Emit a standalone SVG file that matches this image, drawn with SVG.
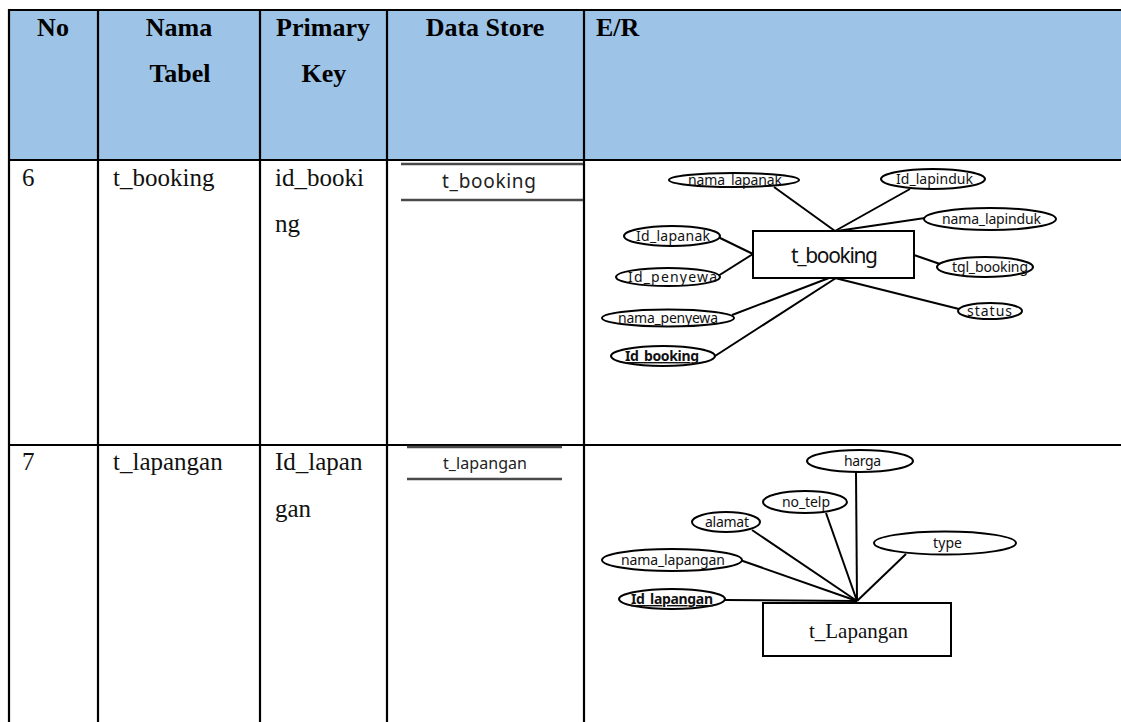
<svg xmlns="http://www.w3.org/2000/svg" width="1121" height="722" viewBox="0 0 1121 722">
  <style>
    .grid { stroke: #000; stroke-width: 2.2; fill: none; }
    .head { font-family: "Liberation Serif", "Times New Roman", serif; font-weight: bold; font-size: 26px; fill: #000; }
    .cell { font-family: "Liberation Serif", "Times New Roman", serif; font-size: 25px; fill: #111; }
    .ds { stroke: #4a4a4a; stroke-width: 2.4; }
    .dslabel { font-family: "Noto Sans", "Open Sans", sans-serif; fill: #222; }
    .attr { fill: #fff; stroke: #000; stroke-width: 2; }
    .alabel { font-family: "Noto Sans", "Open Sans", sans-serif; font-size: 14px; fill: #111; text-anchor: start; }
    .key { font-weight: bold; text-decoration: underline; }
    .ent { fill: #fff; stroke: #000; stroke-width: 2; }
    .link { stroke: #000; stroke-width: 2; fill: none; }
  </style>

  <rect width="1121" height="722" fill="#fff"/>

  <!-- header band -->
  <rect x="9" y="10" width="1112" height="150" fill="#9dc3e6"/>

  <!-- table rules -->
  <g id="table-grid" class="grid">
    <line x1="8" y1="10" x2="1121" y2="10"/>
    <line x1="8" y1="160" x2="1121" y2="160"/>
    <line x1="8" y1="445" x2="1121" y2="445"/>
    <line x1="9" y1="9" x2="9" y2="722"/>
    <line x1="98" y1="9" x2="98" y2="722"/>
    <line x1="260" y1="9" x2="260" y2="722"/>
    <line x1="387" y1="9" x2="387" y2="722"/>
    <line x1="584" y1="9" x2="584" y2="722"/>
  </g>

  <!-- header titles -->
  <g id="header">
    <text class="head" x="53" y="36" text-anchor="middle">No</text>
    <text class="head" x="179" y="36" text-anchor="middle">Nama</text>
    <text class="head" x="180" y="82" text-anchor="middle">Tabel</text>
    <text class="head" x="323" y="36" text-anchor="middle">Primary</text>
    <text class="head" x="324" y="82" text-anchor="middle">Key</text>
    <text class="head" x="485" y="36" text-anchor="middle">Data Store</text>
    <text class="head" x="596" y="36">E/R</text>
  </g>

  <!-- row 6 -->
  <g id="row-6">
    <text class="cell" x="22" y="186">6</text>
    <text class="cell" x="113" y="186">t_booking</text>
    <text class="cell" x="275" y="186">id_booki</text>
    <text class="cell" x="275" y="232">ng</text>
  </g>
  <g id="store-t_booking">
    <line class="ds" x1="401" y1="164" x2="583" y2="164"/>
    <line class="ds" x1="401" y1="200" x2="583" y2="200"/>
    <text class="dslabel" x="442" y="188" font-size="19" textLength="94">t_booking</text>
  </g>

  <!-- row 7 -->
  <g id="row-7">
    <text class="cell" x="22" y="470">7</text>
    <text class="cell" x="113" y="470">t_lapangan</text>
    <text class="cell" x="275" y="470">Id_lapan</text>
    <text class="cell" x="275" y="517">gan</text>
  </g>
  <g id="store-t_lapangan">
    <line class="ds" x1="407" y1="447" x2="562" y2="447"/>
    <line class="ds" x1="407" y1="479" x2="562" y2="479"/>
    <text class="dslabel" x="443" y="469" font-size="16" textLength="84">t_lapangan</text>
  </g>

  <!-- connectors, t_booking -->
  <g id="links-booking" class="link">
    <line x1="774" y1="187" x2="835" y2="231"/>
    <line x1="910" y1="189" x2="835" y2="231"/>
    <line x1="925" y1="218" x2="837" y2="231"/>
    <line x1="718" y1="237" x2="753" y2="254"/>
    <line x1="718" y1="276" x2="753" y2="254"/>
    <line x1="914" y1="255" x2="940" y2="264"/>
    <line x1="835" y1="278" x2="959" y2="309"/>
    <line x1="732" y1="315" x2="829" y2="278"/>
    <line x1="715" y1="356" x2="836" y2="278"/>
  </g>

  <!-- connectors, t_Lapangan -->
  <g id="links-lapangan" class="link">
    <line x1="856" y1="472" x2="857" y2="601"/>
    <line x1="826" y1="513" x2="857" y2="601"/>
    <line x1="752" y1="530" x2="857" y2="601"/>
    <line x1="906" y1="554" x2="857" y2="601"/>
    <line x1="740" y1="560" x2="857" y2="601"/>
    <line x1="725" y1="600" x2="857" y2="601"/>
  </g>

  <!-- entity t_booking -->
  <g id="entity-t_booking">
    <rect class="ent" x="753" y="231" width="161" height="47"/>
    <text x="791" y="263" font-family="Noto Sans, Open Sans, sans-serif" font-size="21" textLength="87" fill="#111">t_booking</text>
  </g>

  <g id="attr-nama_lapanak">
    <ellipse class="attr" cx="734" cy="180" rx="65" ry="7"/>
    <text class="alabel" x="688" y="185" textLength="94">nama_lapanak</text>
  </g>
  <g id="attr-id_lapinduk">
    <ellipse class="attr" cx="933" cy="179" rx="52" ry="10"/>
    <text class="alabel" x="896" y="184" textLength="77">Id_lapinduk</text>
  </g>
  <g id="attr-nama_lapinduk">
    <ellipse class="attr" cx="990" cy="219" rx="66" ry="11"/>
    <text class="alabel" x="942" y="224" textLength="99">nama_lapinduk</text>
  </g>
  <g id="attr-id_lapanak">
    <ellipse class="attr" cx="672" cy="236" rx="48" ry="10"/>
    <text class="alabel" x="636" y="241" textLength="74">Id_lapanak</text>
  </g>
  <g id="attr-id_penyewa">
    <ellipse class="attr" cx="668" cy="277" rx="52" ry="9"/>
    <text class="alabel" x="628" y="282" textLength="89">Id_penyewa</text>
  </g>
  <g id="attr-tgl_booking">
    <ellipse class="attr" cx="985" cy="267" rx="48" ry="10"/>
    <text class="alabel" x="952" y="272" textLength="76">tgl_booking</text>
  </g>
  <g id="attr-nama_penyewa">
    <ellipse class="attr" cx="668" cy="318" rx="66" ry="8.5"/>
    <text class="alabel" x="618" y="323" textLength="100">nama_penyewa</text>
  </g>
  <g id="attr-status">
    <ellipse class="attr" cx="990" cy="311" rx="32" ry="8"/>
    <text class="alabel" x="967" y="316" textLength="45">status</text>
  </g>
  <g id="attr-id_booking">
    <ellipse class="attr" cx="663" cy="356" rx="52" ry="10"/>
    <text class="alabel key" x="625" y="361" textLength="74">Id_booking</text>
  </g>

  <!-- entity t_Lapangan -->
  <g id="entity-t_Lapangan">
    <rect class="ent" x="763" y="603" width="188" height="53"/>
    <text x="809" y="638" font-family="Liberation Serif, Times New Roman, serif" font-size="21" textLength="99" fill="#111">t_Lapangan</text>
  </g>

  <g id="attr-harga">
    <ellipse class="attr" cx="860" cy="461" rx="53" ry="11"/>
    <text class="alabel" x="844" y="466" textLength="37">harga</text>
  </g>
  <g id="attr-no_telp">
    <ellipse class="attr" cx="805" cy="502" rx="42" ry="11"/>
    <text class="alabel" x="782" y="507" textLength="48">no_telp</text>
  </g>
  <g id="attr-alamat">
    <ellipse class="attr" cx="726" cy="522" rx="34" ry="10"/>
    <text class="alabel" x="705" y="527" textLength="44">alamat</text>
  </g>
  <g id="attr-type">
    <ellipse class="attr" cx="945" cy="543" rx="71" ry="11.5"/>
    <text class="alabel" x="933" y="548" textLength="29">type</text>
  </g>
  <g id="attr-nama_lapangan">
    <ellipse class="attr" cx="672" cy="560" rx="70" ry="11"/>
    <text class="alabel" x="621" y="565" textLength="104">nama_lapangan</text>
  </g>
  <g id="attr-id_lapangan">
    <ellipse class="attr" cx="672" cy="599" rx="53" ry="10"/>
    <text class="alabel key" x="631" y="604" textLength="82">Id_lapangan</text>
  </g>
</svg>
